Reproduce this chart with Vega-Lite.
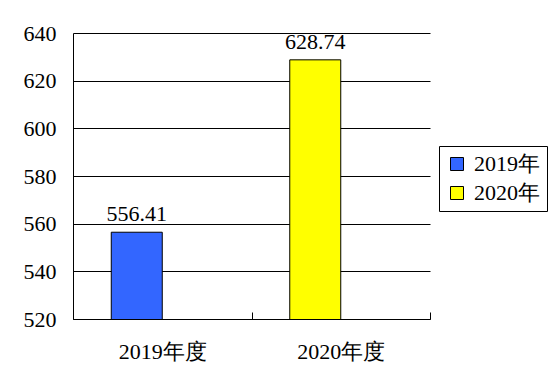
{
  "$schema": "https://vega.github.io/schema/vega-lite/v6.json",
  "autosize": {"type": "none"},
  "width": 357,
  "height": 286,
  "padding": {"left": 73, "top": 33, "right": 130, "bottom": 71},
  "background": "white",
  "config": {
    "view": {"stroke": null},
    "font": "'Liberation Serif', 'DejaVu Serif', serif",
    "axis": {"domainColor": "black", "gridColor": "black", "tickColor": "black", "labelColor": "black", "labelFont": "'Liberation Serif', 'DejaVu Serif', serif", "labelFontSize": 22}
  },
  "data": {
    "values": [
      {"category": "2019年度", "series": "2019年", "value": 556.41},
      {"category": "2020年度", "series": "2020年", "value": 628.74}
    ]
  },
  "encoding": {
    "x": {
      "field": "category", "type": "nominal",
      "scale": {"paddingInner": 0, "paddingOuter": 0},
      "axis": {"title": null, "labelAngle": 0, "tickBand": "extent", "tickSize": -7, "labelPadding": 29, "grid": false, "domainColor": "black"}
    },
    "y": {
      "field": "value", "type": "quantitative",
      "scale": {"domain": [520, 640], "nice": false, "zero": false},
      "axis": {"title": null, "values": [520, 540, 560, 580, 600, 620, 640], "ticks": false, "labelPadding": 17, "grid": true, "gridColor": "black", "gridOpacity": 1}
    }
  },
  "layer": [
    {
      "mark": {"type": "bar", "size": 51, "xOffset": -25.5, "stroke": "black", "strokeWidth": 1, "clip": true},
      "encoding": {
        "color": {
          "field": "series", "type": "nominal",
          "scale": {"domain": ["2019年", "2020年"], "range": ["#3366FF", "#FFFF00"]},
          "legend": {
            "title": null, "orient": "none", "legendX": 366, "legendY": 113,
            "strokeColor": "black", "padding": 7, "fillColor": "white",
            "symbolType": "square", "symbolSize": 169, "symbolStrokeColor": "black", "symbolStrokeWidth": 1, "symbolOpacity": 1,
            "labelFont": "'Liberation Serif', 'DejaVu Serif', serif", "labelFontSize": 22, "labelColor": "black", "labelOffset": 6, "rowPadding": 7
          }
        }
      }
    },
    {
      "mark": {"type": "text", "xOffset": -25.5, "dy": -11, "baseline": "alphabetic", "fontSize": 22, "font": "'Liberation Serif', 'DejaVu Serif', serif", "color": "black"},
      "encoding": {"text": {"field": "value", "type": "quantitative", "format": ".2f"}}
    }
  ]
}
